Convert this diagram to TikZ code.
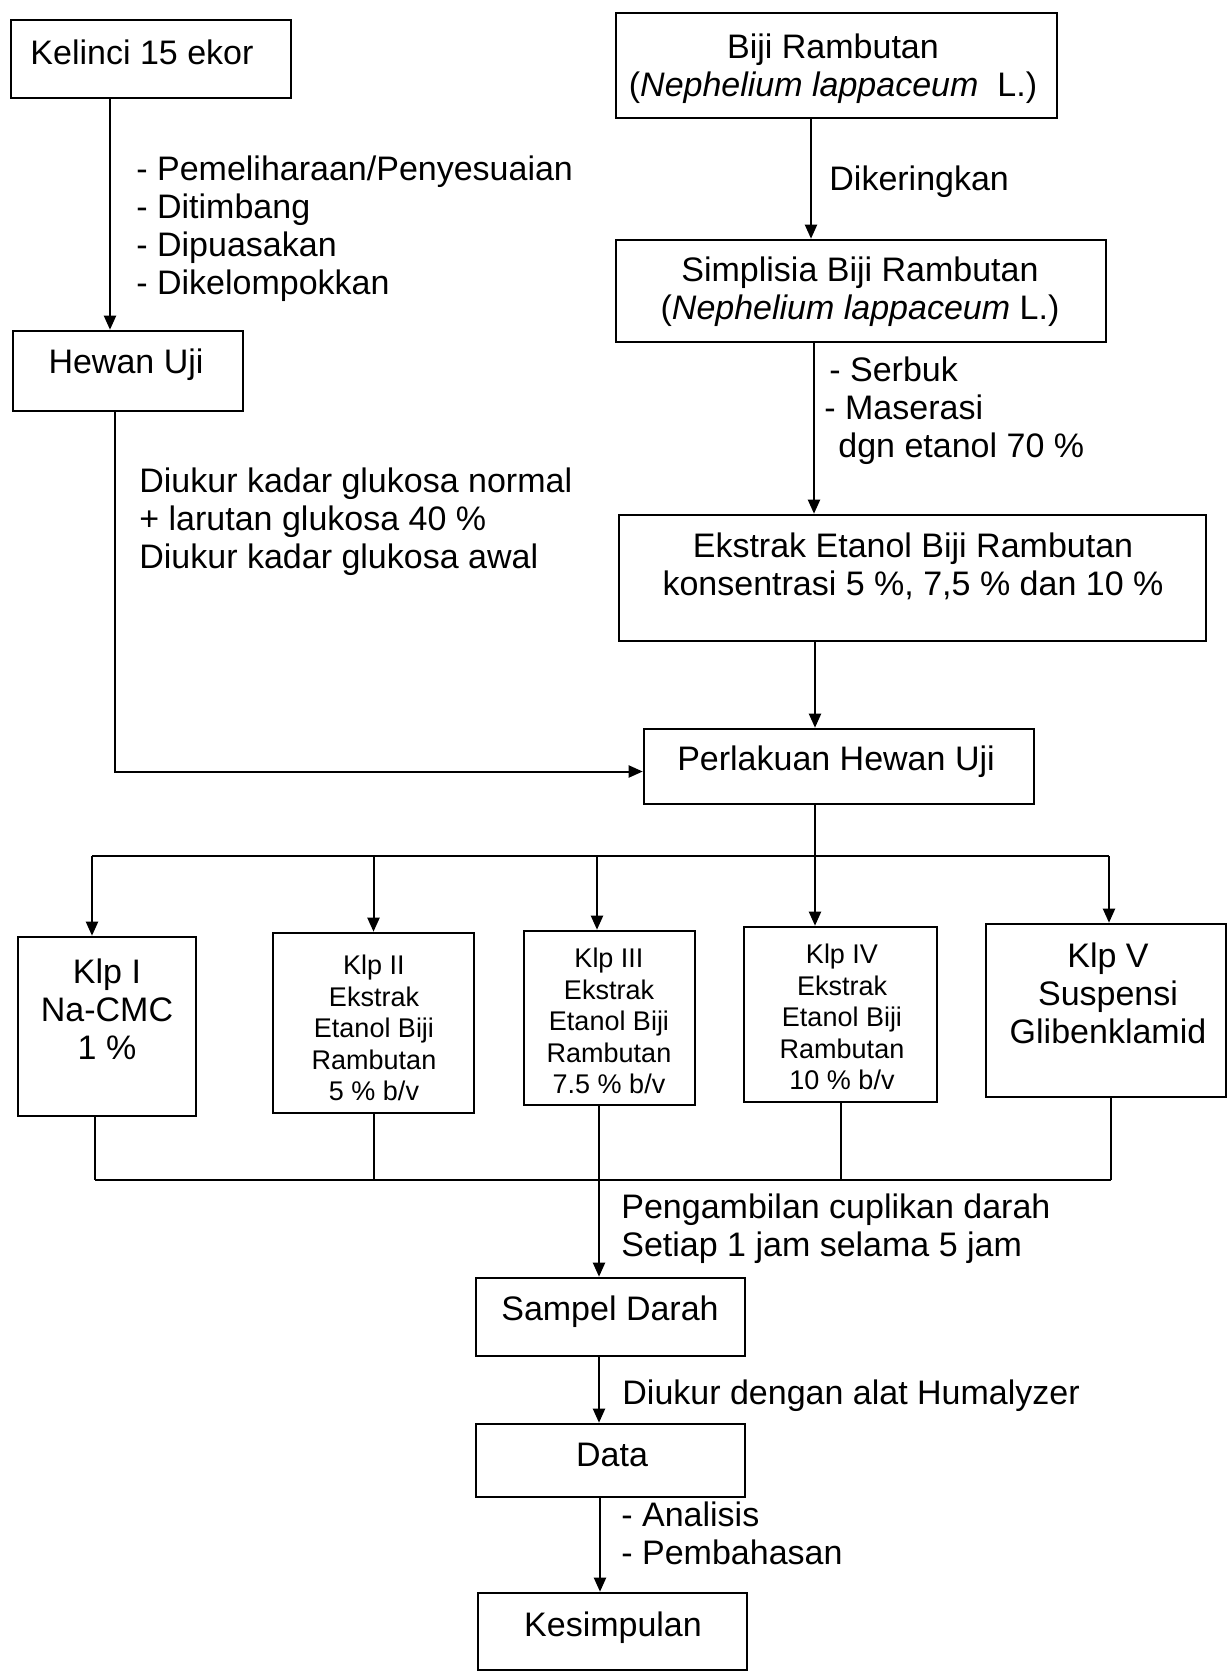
\documentclass[tikz,border=0pt]{standalone}
\usepackage{fontspec}
\setmainfont{Liberation Sans}
\usetikzlibrary{fit,arrows.meta}
\begin{document}
\begin{tikzpicture}[x=0.5pt,y=-0.5pt,
  box/.style={draw, line width=1.3pt, inner sep=0pt},
  big/.style={font=\fontsize{17}{19}\selectfont, inner sep=0pt, align=center},
  small/.style={font=\fontsize{13.5}{15.8}\selectfont, inner sep=0pt, align=center},
  lbl/.style={font=\fontsize{17}{19}\selectfont, inner sep=0pt, align=left, anchor=west},
  conn/.style={line width=1pt},
  arr/.style={conn, -{Triangle[length=7pt,width=6pt]}}
]
\useasboundingbox[fill=white] (0,0) rectangle (1229,1676);

% ---------- boxes ----------
\node[box, fit={(11,20) (291,98)}] (kel) {};
\node[box, fit={(13,331) (243,411)}] (hew) {};
\node[box, fit={(616,13) (1057,118)}] (biji) {};
\node[box, fit={(616,240) (1106,342)}] (simp) {};
\node[box, fit={(619,515) (1206,641)}] (eks) {};
\node[box, fit={(644,729) (1034,804)}] (perl) {};
\node[box, fit={(18,937) (196,1116)}] (k1) {};
\node[box, fit={(273,933) (474,1113)}] (k2) {};
\node[box, fit={(524,931) (695,1105)}] (k3) {};
\node[box, fit={(744,927) (937,1102)}] (k4) {};
\node[box, fit={(986,924) (1226,1097)}] (k5) {};
\node[box, fit={(476,1278) (745,1356)}] (samp) {};
\node[box, fit={(476,1424) (745,1497)}] (data) {};
\node[box, fit={(478,1593) (747,1670)}] (kes) {};

% ---------- box texts ----------
\node[big] (kel-t) at (142,52) {Kelinci 15 ekor};
\node[big] (hew-t) at (126,365) {Hewan Uji};
\node[big] (biji-t) at (833,69) {Biji Rambutan\\(\textit{Nephelium lappaceum}\ \ L.)};
\node[big] (simp-t) at (860,292) {Simplisia Biji Rambutan\\(\textit{Nephelium lappaceum} L.)};
\node[big] (eks-t) at (913,566) {Ekstrak Etanol Biji Rambutan\\konsentrasi 5 \%, 7,5 \% dan 10 \%};
\node[big] (perl-t) at (836,762) {Perlakuan Hewan Uji};
\node[big] (k1-t) at (107,1009) {Klp I\\Na-CMC\\1 \%};
\node[small] (k2-t) at (374,1028) {Klp II\\Ekstrak\\Etanol Biji\\Rambutan\\5 \% b/v};
\node[small] (k3-t) at (609,1021) {Klp III\\Ekstrak\\Etanol Biji\\Rambutan\\7.5 \% b/v};
\node[small] (k4-t) at (842,1017) {Klp IV\\Ekstrak\\Etanol Biji\\Rambutan\\10 \% b/v};
\node[big] (k5-t) at (1108,993) {Klp V\\Suspensi\\Glibenklamid};
\node[big] (samp-t) at (610,1312) {Sampel Darah};
\node[big] (data-t) at (612,1455) {Data};
\node[big] (kes-t) at (613,1628) {Kesimpulan};

% ---------- labels ----------
\node[lbl] (l1) at (136,229) {- Pemeliharaan/Penyesuaian\\- Ditimbang\\- Dipuasakan\\- Dikelompokkan};
\node[lbl] (l2) at (139,522) {Diukur kadar glukosa normal\\+ larutan glukosa 40 \%\\Diukur kadar glukosa awal};
\node[lbl] (l3) at (829,182) {Dikeringkan};
\node[lbl] (l4) at (824,411) {\hspace*{2.5pt}- Serbuk\\- Maserasi\\\hspace*{7pt}dgn etanol 70 \%};
\node[lbl] (l5) at (621,1229) {Pengambilan cuplikan darah\\Setiap 1 jam selama 5 jam};
\node[lbl] (l6) at (622,1396) {Diukur dengan alat Humalyzer};
\node[lbl] (l7) at (621,1533) {- Analisis\\- Pembahasan};

% ---------- connector helper coordinates ----------
\coordinate (ca) at (110,0);
\coordinate (cb) at (115,0);
\coordinate (cc) at (811,0);
\coordinate (cd) at (814,0);
\coordinate (ce) at (815,0);
\coordinate (cf) at (597,0);
\coordinate (cg) at (599,0);
\coordinate (ch) at (600,0);
\coordinate (barL) at (92,856);
\coordinate (barR) at (1109,856);
\coordinate (botL) at (95,1180);
\coordinate (botR) at (1111,1180);

% ---------- connectors ----------
\draw[arr] (kel.south -| ca) -- (hew.north -| ca);
\draw[arr] (hew.south -| cb) |- ([yshift=-2.5pt]perl.west);
\draw[arr] (biji.south -| cc) -- (simp.north -| cc);
\draw[arr] (simp.south -| cd) -- (eks.north -| cd);
\draw[arr] (eks.south -| ce) -- (perl.north -| ce);

\draw[conn] (perl.south -| ce) -- (ce |- barL);
\draw[conn] (barL) -- (barR);
\draw[arr] (barL) -- (k1.north -| barL);
\draw[arr] (k2.north |- barL) -- (k2.north);
\draw[arr] (cf |- barL) -- (k3.north -| cf);
\draw[arr] (ce |- barL) -- (k4.north -| ce);
\draw[arr] (barR) -- (k5.north -| barR);

\draw[conn] (k1.south -| botL) -- (botL);
\draw[conn] (botL) -- (botR);
\draw[conn] (k2.south) -- (k2.south |- botL);
\draw[conn] (k4.south) -- (k4.south |- botL);
\draw[conn] (k5.south -| botR) -- (botR);

\draw[arr] (k3.south -| cg) -- (samp.north -| cg);
\draw[arr] (samp.south -| cg) -- (data.north -| cg);
\draw[arr] (data.south -| ch) -- (kes.north -| ch);
\end{tikzpicture}
\end{document}
